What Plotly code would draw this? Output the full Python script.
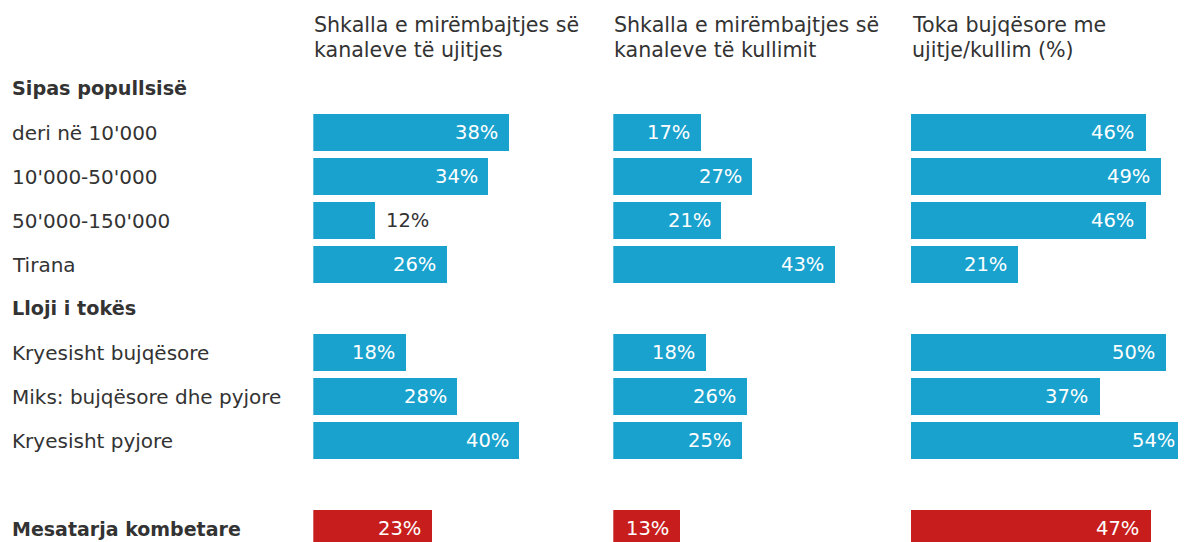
import plotly.graph_objects as go

# ---------------- data ----------------
group_titles = ["Sipas popullsisë", "Lloji i tokës"]
group_sizes = [4, 3]
categories = ["deri në 10'000", "10'000-50'000", "50'000-150'000", "Tirana",
              "Kryesisht bujqësore", "Miks: bujqësore dhe pyjore", "Kryesisht pyjore"]
national_label = "Mesatarja kombetare"

column_titles = [
    ["Shkalla e mirëmbajtjes së", "kanaleve të ujitjes"],
    ["Shkalla e mirëmbajtjes së", "kanaleve të kullimit"],
    ["Toka bujqësore me", "ujitje/kullim (%)"],
]
ujitje = [38, 34, 12, 26, 18, 28, 40]
kullim = [17, 27, 21, 43, 18, 26, 25]
toka = [46, 49, 46, 21, 50, 37, 54]
national = [23, 13, 47]

# ---------------- style ----------------
OFF = 8  # default page body margin
W, H = 1186 - OFF, 542 - OFF
FONT = "DejaVu Sans"
TXT = "#333333"
BLUE = "#1aa2ce"
RED = "#c71e1d"
col_left_px = [313.3 - OFF, 613.3 - OFF, 910.7 - OFF]
px_per_pct = 5.16
x_max = 54
row0_px = 88.5 - OFF
row_pitch = 44.0
bar_h = 36.3

# ---------------- row layout ----------------
cat_rows, title_rows = [], []
r = 0
for t, n in zip(group_titles, group_sizes):
    title_rows.append(r)
    r += 1
    for _ in range(n):
        cat_rows.append(r)
        r += 1
r += 1  # blank row
national_row = r

y_top = -row0_px / row_pitch
y_bot = (H - row0_px) / row_pitch

fig = go.Figure()
series = [ujitje, kullim, toka]
annotations = []

for k, vals in enumerate(series):
    xa = "x" if k == 0 else f"x{k+1}"
    ys = cat_rows + [national_row]
    xs = list(vals) + [national[k]]
    colors = [BLUE] * len(vals) + [RED]
    fig.add_trace(go.Bar(
        x=xs, y=ys, orientation="h", xaxis=xa, yaxis="y",
        marker=dict(color=colors, line=dict(width=0)),
        width=bar_h / row_pitch, hoverinfo="skip", showlegend=False,
    ))
    for v, yy in zip(xs, ys):
        inside = v >= 13
        annotations.append(dict(
            x=v, y=yy, xref=xa, yref="y",
            text=f"{v}%", showarrow=False,
            xanchor="right" if inside else "left",
            xshift=-9 if inside else 9, yanchor="middle",
            font=dict(family=FONT, size=19.5, color="white" if inside else TXT),
        ))
    # column titles
    for li, line in enumerate(column_titles[k]):
        base = 31.7 + 25 * li - OFF
        annotations.append(dict(
            x=col_left_px[k] / W - 1 / W, y=1 - (base - 7) / H, xref="paper", yref="paper",
            text=line, showarrow=False, xanchor="left", yanchor="middle",
            font=dict(family=FONT, size=20.6, color=TXT),
        ))

# row labels
lab_x = (10 - OFF) / W
for t, rr in zip(group_titles, title_rows):
    annotations.append(dict(x=lab_x, y=rr, xref="paper", yref="y", text=f"<b>{t}</b>",
                            showarrow=False, xanchor="left", yanchor="middle",
                            font=dict(family=FONT, size=19.2, color=TXT)))
for t, rr in zip(categories, cat_rows):
    annotations.append(dict(x=lab_x, y=rr, xref="paper", yref="y", text=t,
                            showarrow=False, xanchor="left", yanchor="middle",
                            font=dict(family=FONT, size=20, color=TXT)))
annotations.append(dict(x=lab_x, y=national_row, xref="paper", yref="y",
                        text=f"<b>{national_label}</b>", showarrow=False,
                        xanchor="left", yanchor="middle",
                        font=dict(family=FONT, size=19, color=TXT)))

axis_common = dict(showgrid=False, zeroline=False, showticklabels=False,
                   showline=False, ticks="", fixedrange=True)
layout = dict(
    width=W, height=H, margin=dict(l=0, r=0, t=0, b=0),
    paper_bgcolor="white", plot_bgcolor="white",
    yaxis=dict(range=[y_bot, y_top], domain=[0, 1], anchor="x", **axis_common),
    annotations=annotations, bargap=0,
    font=dict(family=FONT, color=TXT),
)
for k in range(3):
    left = col_left_px[k] / W
    right = min(1.0, (col_left_px[k] + x_max * px_per_pct) / W)
    key = "xaxis" if k == 0 else f"xaxis{k+1}"
    layout[key] = dict(domain=[left, right], range=[0, x_max], anchor="y", **axis_common)

fig.update_layout(**layout)
fig.write_html("out.html", config={"displayModeBar": False})
